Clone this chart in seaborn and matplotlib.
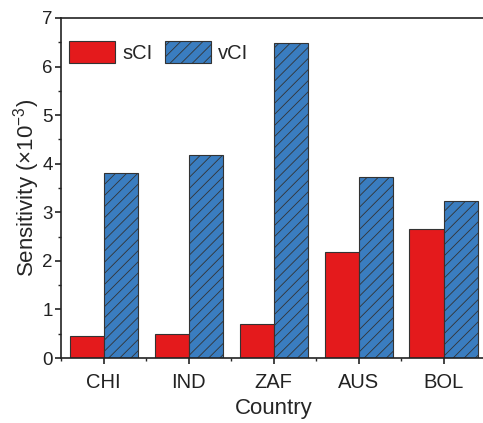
import numpy as np
import pandas as pd
import seaborn as sns
from matplotlib import pyplot as plt
from matplotlib.ticker import MultipleLocator, AutoMinorLocator

# dữ liệu
countries = ['CHI', 'IND', 'ZAF', 'AUS', 'BOL']
sci_vals = [0.46, 0.50, 0.71, 2.18, 2.66]
vci_vals = [3.80, 4.18, 6.48, 3.72, 3.23]
series_names = ['sCI', 'vCI']

df = pd.DataFrame({
    'Country': countries * 2,
    'Sensitivity': sci_vals + vci_vals,
    'Type': [series_names[0]] * 5 + [series_names[1]] * 5,
})

sns.set_style('ticks')
plt.rcParams['font.family'] = ['Liberation Sans', 'DejaVu Sans']
plt.rcParams['mathtext.fontset'] = 'custom'
plt.rcParams['mathtext.rm'] = 'Liberation Sans'
plt.rcParams['mathtext.default'] = 'regular'
plt.rcParams['hatch.linewidth'] = 0.6

fig = plt.figure(figsize=(4.83, 4.23), dpi=100)
ax = fig.add_axes([61 / 483, 65 / 423, 425 / 483, 340 / 423])

palette = {'sCI': '#e41a1c', 'vCI': '#3a7dc0'}
sns.barplot(data=df, x='Country', y='Sensitivity', hue='Type', palette=palette,
            width=0.8, edgecolor='#333333', linewidth=0.8, saturation=1,
            legend=False, ax=ax)

for p in ax.containers[1]:
    p.set_hatch('///')

ax.set_xlim(-0.5, 4.5)
ax.set_ylim(0, 7)
ax.yaxis.set_major_locator(MultipleLocator(1))
ax.yaxis.set_minor_locator(AutoMinorLocator(2))
ax.xaxis.set_minor_locator(MultipleLocator(1, offset=0.5))

ax.spines['right'].set_visible(False)
for s in ax.spines.values():
    s.set_linewidth(1.2)
    s.set_color('#222222')

ax.tick_params(axis='both', which='major', direction='out', length=4, width=1.2,
               labelsize=14.5, colors='#222222', pad=3)
ax.tick_params(axis='both', which='minor', direction='out', length=2.5, width=1.0)
ax.tick_params(axis='y', labelsize=13.5, pad=2)
ax.tick_params(axis='x', pad=7)

ax.set_xlabel('Country', fontsize=16, labelpad=4)
ax.set_ylabel('Sensitivity (×10$^{-3}$)', fontsize=16, labelpad=0)

ax.legend(handles=[ax.containers[0][0], ax.containers[1][0]], labels=series_names,
          loc='upper left', ncol=2, frameon=False, fontsize=14.5,
          handlelength=2.3, handleheight=1.3, columnspacing=0.6,
          handletextpad=0.35, borderpad=0.3, borderaxespad=0,
          bbox_to_anchor=(0.005, 0.95))

plt.savefig('out.png', dpi=100)
